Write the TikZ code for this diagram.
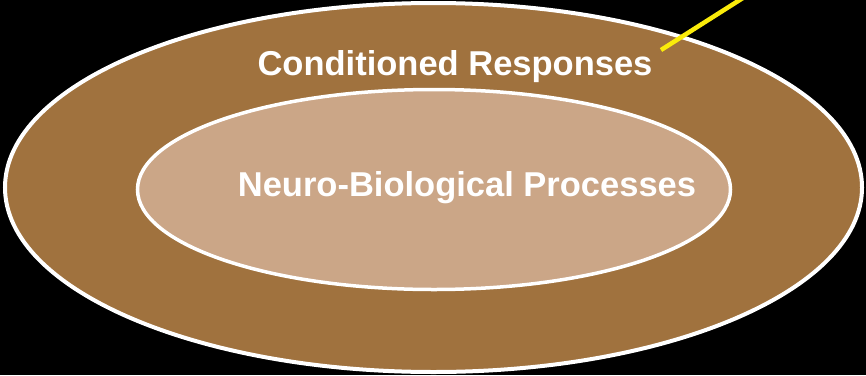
\documentclass[tikz,border=0pt]{standalone}
\usepackage{fontspec}
\setmainfont{Liberation Sans}
\definecolor{outerbrown}{RGB}{160,114,62}
\definecolor{innertan}{RGB}{203,166,135}
\definecolor{pointer}{RGB}{250,235,10}

\begin{document}
\begin{tikzpicture}[x=1pt,y=-1pt,line width=4pt,
  ringtext/.style={text=white,font=\bfseries\fontsize{34.5}{40}\selectfont,inner sep=0pt,anchor=base}]
  \fill[black] (0,0) rectangle (866,375);
  \useasboundingbox (0,0) rectangle (866,375);
  \draw[white,fill=outerbrown] (433.5,187.5) ellipse (428.5 and 184.5);
  \draw[white,line width=3.5pt,fill=innertan] (434,189.5) ellipse (296.5 and 100);
  \node[ringtext] (cond) at (455,75) {Conditioned Responses};
  \node[ringtext] (neuro) at (467,196) {Neuro-Biological Processes};
  \coordinate (tip) at (661,50);
  \coordinate (off) at (746,-4);
  \clip (0,0) rectangle (866,375);
  \draw[pointer,line width=4.5pt] (tip) -- (off);
\end{tikzpicture}
\end{document}
